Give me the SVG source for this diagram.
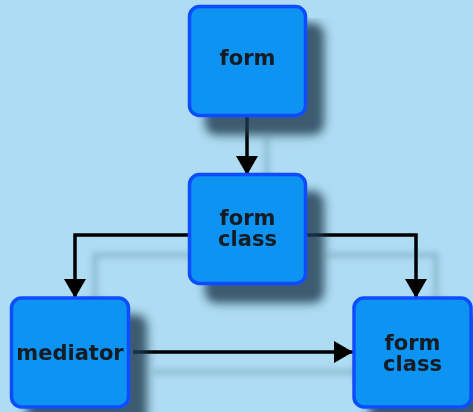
<svg xmlns="http://www.w3.org/2000/svg" width="473" height="412" viewBox="0 0 473 412">
<style>
.n{fill:#0c93f1;stroke:#0a4dff;stroke-width:3.5}
.t{font-family:"DejaVu Sans",sans-serif;font-weight:bold;font-size:21px;fill:#141a24;text-anchor:middle}
.c{fill:none;stroke:#000;stroke-width:3.5}
</style>
<defs>
<filter id="sh" filterUnits="userSpaceOnUse" x="0" y="0" width="473" height="412">
<feGaussianBlur in="SourceAlpha" stdDeviation="5"/>
<feOffset dx="17" dy="18" result="b"/>
<feFlood flood-color="#1e3a4e" flood-opacity="0.8"/>
<feComposite in2="b" operator="in"/>
<feMerge><feMergeNode/><feMergeNode in="SourceGraphic"/></feMerge>
</filter>
<filter id="shc" filterUnits="userSpaceOnUse" x="0" y="0" width="473" height="412">
<feGaussianBlur in="SourceAlpha" stdDeviation="3"/>
<feOffset dx="20" dy="20" result="b"/>
<feFlood flood-color="#1e3a4e" flood-opacity="0.3"/>
<feComposite in2="b" operator="in"/>
<feMerge><feMergeNode/><feMergeNode in="SourceGraphic"/></feMerge>
</filter>
<marker id="ah" markerUnits="userSpaceOnUse" markerWidth="20" markerHeight="22" viewBox="0 0 20 22" refX="19" refY="11" orient="auto">
<path d="M0,0 L19,11 L0,22 Z" fill="#000"/>
</marker>
</defs>
<rect width="473" height="412" fill="#aedcf2"/>
<g id="connectors" filter="url(#shc)">
<path class="c" d="M247,117 V175" marker-end="url(#ah)"/>
<path class="c" d="M188,235 H75 V298" marker-end="url(#ah)"/>
<path class="c" d="M307,235 H416 V298" marker-end="url(#ah)"/>
<path class="c" d="M133,352 H353" marker-end="url(#ah)"/>
</g>
<g id="form" filter="url(#sh)">
<rect class="n" x="189.5" y="6.5" width="116" height="109" rx="10"/>
<text class="t" x="247.5" y="65">form</text>
</g>
<g id="formclass1" filter="url(#sh)">
<rect class="n" x="189.5" y="174.5" width="116" height="109" rx="10"/>
<text class="t" x="247.5" y="225">form</text>
<text class="t" x="247.5" y="246">class</text>
</g>
<g id="mediator" filter="url(#sh)">
<rect class="n" x="11.5" y="298" width="117" height="109" rx="10"/>
<text class="t" x="70" y="360">mediator</text>
</g>
<g id="formclass2" filter="url(#sh)">
<rect class="n" x="354" y="298" width="117" height="109" rx="10"/>
<text class="t" x="412.5" y="350">form</text>
<text class="t" x="412.5" y="371">class</text>
</g>
</svg>
